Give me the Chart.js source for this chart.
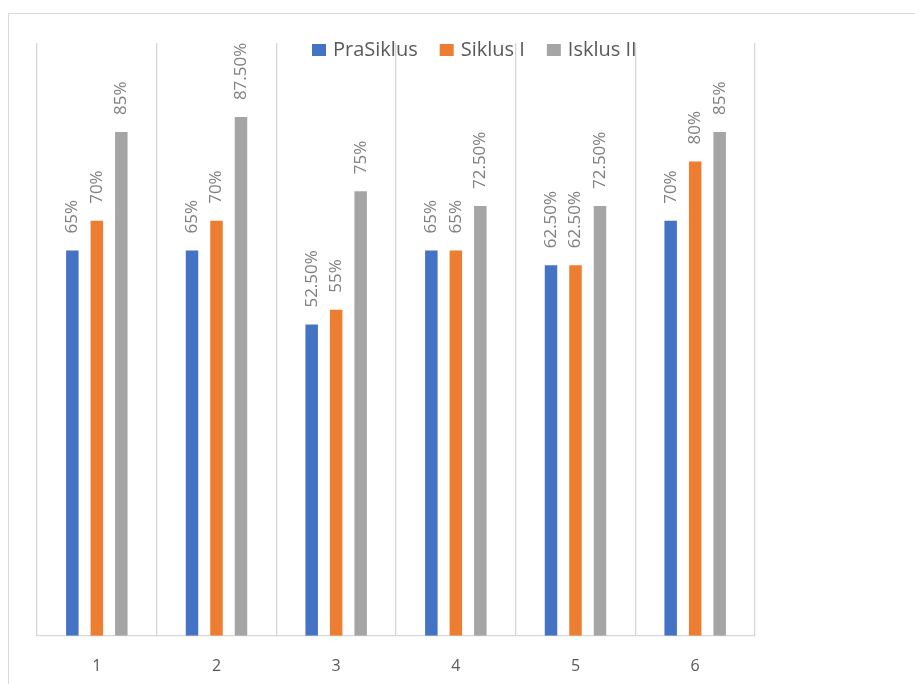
<!DOCTYPE html>
<html>
<head>
<meta charset="utf-8">
<script src="https://cdn.jsdelivr.net/npm/chart.js@4.4.1/dist/chart.umd.min.js"></script>
<style>
html,body{margin:0;padding:0;background:#fff;}
#wrap{position:relative;width:915px;height:684px;overflow:hidden;}
#frame{position:absolute;left:8px;top:13px;width:1200px;height:1200px;border:1px solid #d9d9d9;box-sizing:border-box;}
canvas{position:absolute;left:0;top:0;}
</style>
</head>
<body>
<div id="wrap">
<div id="frame"></div>
<canvas id="c" width="915" height="684"></canvas>
</div>
<script>
const categories = ['1','2','3','4','5','6'];
const seriesNames = ['PraSiklus','Siklus I','Isklus II'];
const praSiklus = [65, 65, 52.5, 65, 62.5, 70];
const siklusI = [70, 70, 55, 65, 62.5, 80];
const isklusII = [85, 87.5, 75, 72.5, 72.5, 85];
const colors = ['#4472C4','#ED7D31','#A5A5A5'];

function fmt(v){ return Number.isInteger(v) ? v + '%' : v.toFixed(2) + '%'; }

const labelPlugin = {
  id: 'rotLabels',
  afterDatasetsDraw(chart){
    const ctx = chart.ctx;
    ctx.save();
    ctx.font = '17px "Open Sans", sans-serif';
    ctx.fillStyle = '#7f7f7f';
    ctx.textAlign = 'left';
    ctx.textBaseline = 'middle';
    chart.data.datasets.forEach((ds, i) => {
      const meta = chart.getDatasetMeta(i);
      meta.data.forEach((el, j) => {
        ctx.save();
        ctx.translate(el.x, el.y - 17);
        ctx.rotate(-Math.PI/2);
        ctx.fillText(fmt(ds.data[j]), 0, 0);
        ctx.restore();
      });
    });
    ctx.restore();
  }
};

// Overlay legend (Excel style: drawn over the plot, not taking layout space)
const overlayLegend = {
  id: 'overlayLegend',
  afterDraw(chart){
    const ctx = chart.ctx;
    ctx.save();
    ctx.font = '20px "Open Sans", sans-serif';
    ctx.textBaseline = 'middle';
    ctx.textAlign = 'left';
    let x = 312;
    const yc = 50;
    chart.data.datasets.forEach((ds) => {
      ctx.fillStyle = ds.backgroundColor;
      ctx.fillRect(x, yc - 6, 14, 12);
      x += 21;
      ctx.fillStyle = '#595959';
      ctx.fillText(ds.label, x, yc);
      x += ctx.measureText(ds.label).width + 22;
    });
    ctx.restore();
  }
};

const datasets = [praSiklus, siklusI, isklusII].map((d, i) => ({
  label: seriesNames[i],
  data: d,
  backgroundColor: colors[i],
  borderWidth: 0,
  categoryPercentage: 0.614,
  barPercentage: 0.51
}));

new Chart(document.getElementById('c'), {
  type: 'bar',
  data: { labels: categories, datasets },
  plugins: [labelPlugin, overlayLegend],
  options: {
    responsive: false,
    animation: false,
    layout: { padding: { left: 37, right: 160, top: 43, bottom: -13 } },
    plugins: {
      legend: { display: false },
      tooltip: { enabled: false }
    },
    scales: {
      x: {
        grid: { display: true, color: '#d6d6d6', lineWidth: 1.3, drawTicks: false, offset: true },
        border: { display: true, color: '#d6d6d6', width: 1.3 },
        ticks: { color: '#595959', font: { family: '"Open Sans", sans-serif', size: 16 }, padding: 21 }
      },
      y: {
        display: false,
        min: 0,
        max: 100
      }
    }
  }
});
</script>
</body>
</html>
